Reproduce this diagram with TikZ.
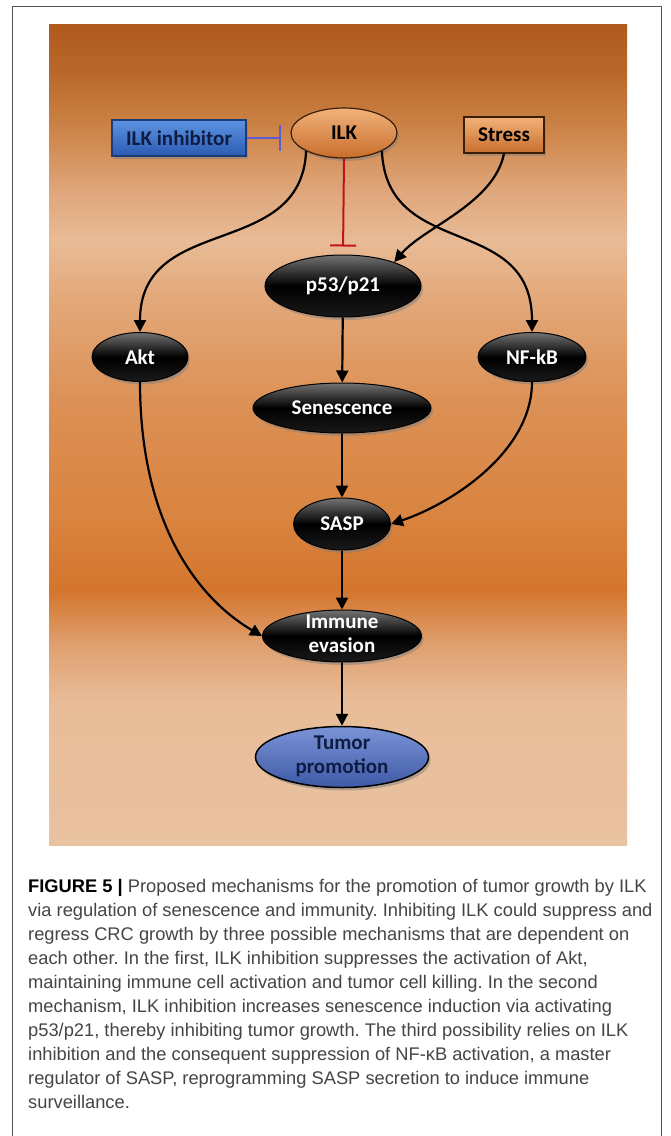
\documentclass[tikz,border=0pt]{standalone}
\usepackage{fontspec}
\setmainfont{Carlito}
\newfontfamily\fuenteleyenda{Liberation Sans}
\usetikzlibrary{shapes,arrows.meta,shadows}
\usepackage{xcolor}

\definecolor{fondo0}{HTML}{B05A1E}
\definecolor{fondo1}{HTML}{B8672A}
\definecolor{fondo2}{HTML}{CD8448}
\definecolor{fondo3}{HTML}{DFA67B}
\definecolor{fondo4}{HTML}{E8BB96}
\definecolor{fondo5}{HTML}{E3A879}
\definecolor{fondo6}{HTML}{DC9156}
\definecolor{fondo7}{HTML}{D9833F}
\definecolor{fondo8}{HTML}{D4752D}
\definecolor{fondo9}{HTML}{DFA070}
\definecolor{fondo10}{HTML}{E8BC98}
\definecolor{fondo11}{HTML}{E9C2A2}
\definecolor{ilkclaro}{HTML}{F2B27A}
\definecolor{ilkoscuro}{HTML}{C86E2C}
\definecolor{ilkborde}{HTML}{3C1E08}
\definecolor{azulclaro}{HTML}{5E93E2}
\definecolor{azuloscuro}{HTML}{2A5BB2}
\definecolor{azulborde}{HTML}{1C3C78}
\definecolor{tumorclaro}{HTML}{7B93D6}
\definecolor{tumoroscuro}{HTML}{3F5AA6}
\definecolor{textoazul}{HTML}{0E1C44}
\definecolor{lineaazul}{HTML}{5B5BD6}
\definecolor{linearoja}{HTML}{C0141C}
\definecolor{textoleyenda}{HTML}{454545}
\definecolor{marco}{HTML}{555555}

\newcommand{\doslineas}[2]{\smash{\raisebox{-5pt}{\begin{tabular}[c]{@{}c@{}}#1\\#2\end{tabular}}}}

\begin{document}
\frenchspacing
\begin{tikzpicture}[x=1pt,y=-1pt,
    elipse/.style={ellipse, inner sep=0pt, font=\bfseries\fontsize{21}{24}\selectfont,
        drop shadow={shadow xshift=2pt,shadow yshift=-3pt,opacity=0.5}},
    caja/.style={rectangle, inner sep=0pt, font=\bfseries\fontsize{21}{24}\selectfont,
        drop shadow={shadow xshift=2pt,shadow yshift=-3pt,opacity=0.5}},
    negro/.style={elipse, draw=black, line width=1pt, top color=black!55, bottom color=black!90, middle color=black, text=white},
    naranja/.style={top color=ilkclaro, bottom color=ilkoscuro, draw=ilkborde, line width=1.2pt, text=black},
    azul/.style={top color=azulclaro, bottom color=azuloscuro, draw=azulborde, line width=1.2pt, text=textoazul},
    tumor/.style={elipse, top color=tumorclaro, bottom color=tumoroscuro, draw=black, line width=1.5pt, text=textoazul},
    flecha/.style={line width=2.2pt, -{Triangle[length=12pt,width=12pt]}},
    inhibe/.style={line width=2pt, -{Bar[width=26pt]}}]
    \useasboundingbox (0,0) rectangle (670,1136);
    \fill[white] (0,0) rectangle (670,1136);
    \draw[marco, line width=1pt] (12,1136) -- (12,6) -- (661,6) -- (661,1136); % marco
    % fondo
    \foreach \ya/\yb/\ca/\cb in {24/70/fondo0/fondo1, 70/130/fondo1/fondo2, 130/190/fondo2/fondo3,
        190/240/fondo3/fondo4, 240/300/fondo4/fondo5, 300/400/fondo5/fondo6, 400/520/fondo6/fondo7,
        520/590/fondo7/fondo8, 590/645/fondo8/fondo9, 645/700/fondo9/fondo10, 700/845/fondo10/fondo11}
        \shade[top color=\ca, bottom color=\cb] (49,\ya) rectangle (627,\yb+0.5);

    \node[caja, azul, minimum width=134pt, minimum height=36pt] (inhibidor) at (179,138) {ILK inhibitor};
    \node[elipse, naranja, minimum width=106pt, minimum height=50pt] (ILK) at (344,133) {ILK};
    \node[caja, naranja, minimum width=80pt, minimum height=36pt] (estres) at (504,135) {Stress};
    \node[negro, minimum width=156pt, minimum height=62pt] (p53) at (343,286) {p53/p21};
    \node[negro, minimum width=96pt, minimum height=49pt] (akt) at (140,357) {Akt};
    \node[negro, minimum width=108pt, minimum height=49pt] (nfkb) at (532,357) {NF-kB};
    \node[negro, minimum width=178pt, minimum height=50pt] (senes) at (342,408) {Senescence};
    \node[negro, minimum width=97pt, minimum height=52pt] (sasp) at (342,524) {SASP};
    \node[negro, minimum width=159pt, minimum height=52pt] (inmune) at (342,636) {\doslineas{Immune}{evasion}};
    \node[tumor, minimum width=173pt, minimum height=61pt] (promocion) at (342,757) {\doslineas{Tumor}{promotion}};

    \draw[inhibe, lineaazul, shorten >=9pt] (inhibidor) -- (inhibidor -| ILK.west); % inhibidor
    \draw[inhibe, linearoja, shorten >=8pt] (ILK.south) -- (p53.north);
    \draw[flecha] (ILK.south west) .. controls +(-5,110) and +(0,-120) .. (akt.north);
    \draw[flecha] (ILK.south east) .. controls +(5,110) and +(0,-120) .. (nfkb.north);
    \draw[flecha] (estres.south) .. controls +(-10,50) and +(30,-35) .. (p53.25);
    \draw[flecha] (p53) -- (senes);
    \draw[flecha] (senes) -- (sasp);
    \draw[flecha] (nfkb.south) .. controls +(0,70) and +(60,-20) .. (sasp.east);
    \draw[flecha] (sasp) -- (inmune);
    \draw[flecha] (akt.south) .. controls +(0,140) and +(-65,-38) .. (inmune.west);
    \draw[flecha] (inmune) -- (promocion);

    % leyenda
    \node[anchor=north west, inner sep=0pt, align=left, text=textoleyenda,
        font=\fuenteleyenda\fontsize{18.3}{24}\selectfont] (leyenda) at (28,879)
        {{\color{black}\textbf{FIGURE 5 |}} Proposed mechanisms for the promotion of tumor growth by ILK\\
        via regulation of senescence and immunity. Inhibiting ILK could suppress and\\
        regress CRC growth by three possible mechanisms that are dependent on\\
        each other. In the first, ILK inhibition suppresses the activation of Akt,\\
        maintaining immune cell activation and tumor cell killing. In the second\\
        mechanism, ILK inhibition increases senescence induction via activating\\
        p53/p21, thereby inhibiting tumor growth. The third possibility relies on ILK\\
        inhibition and the consequent suppression of NF-κB activation, a master\\
        regulator of SASP, reprogramming SASP secretion to induce immune\\
        surveillance.};
\end{tikzpicture}
\end{document}
